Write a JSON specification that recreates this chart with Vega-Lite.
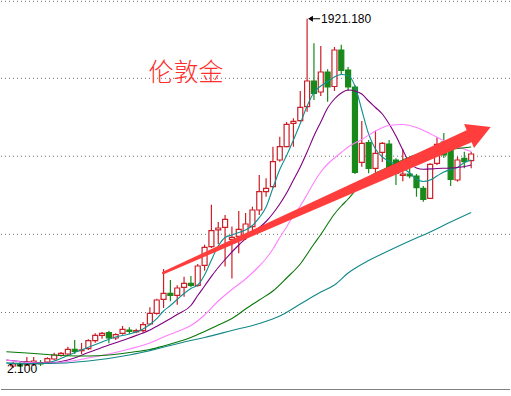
{
  "$schema": "https://vega.github.io/schema/vega-lite/v6.json",
  "width": 511,
  "height": 396,
  "padding": 0,
  "autosize": {"type": "fit", "contains": "padding"},
  "background": "white",
  "config": {"view": {"stroke": null}},
  "datasets": {
    "candles": [
      {"i":1,"o":1574,"c":1576,"h":1578,"l":1572.1},
      {"i":2,"o":1576,"c":1574,"h":1578,"l":1573},
      {"i":3,"o":1575,"c":1578,"h":1583,"l":1574},
      {"i":4,"o":1576,"c":1579,"h":1583,"l":1574},
      {"i":5,"o":1577.5,"c":1576,"h":1580,"l":1574},
      {"i":6,"o":1578,"c":1581.3,"h":1582.7,"l":1576.7},
      {"i":7,"o":1581,"c":1585,"h":1587.3,"l":1579.7},
      {"i":8,"o":1584.7,"c":1586.7,"h":1588,"l":1583.3},
      {"i":9,"o":1586,"c":1590.7,"h":1593.3,"l":1584},
      {"i":10,"o":1590.7,"c":1588.7,"h":1600,"l":1586},
      {"i":11,"o":1589.3,"c":1590,"h":1597,"l":1586},
      {"i":12,"o":1591.3,"c":1599.3,"h":1600.7,"l":1590},
      {"i":13,"o":1599.3,"c":1604.7,"h":1606.7,"l":1597.3},
      {"i":14,"o":1604.7,"c":1606.7,"h":1608,"l":1601.3},
      {"i":15,"o":1607.3,"c":1602,"h":1609.3,"l":1596.7},
      {"i":16,"o":1602,"c":1605.3,"h":1606.7,"l":1600},
      {"i":17,"o":1606.7,"c":1610.7,"h":1614,"l":1605.3},
      {"i":18,"o":1610,"c":1608.7,"h":1612.7,"l":1606},
      {"i":19,"o":1608,"c":1609.3,"h":1611.3,"l":1606.7},
      {"i":20,"o":1609.3,"c":1615.3,"h":1618,"l":1607.3},
      {"i":21,"o":1616,"c":1626.7,"h":1632.7,"l":1614.7},
      {"i":22,"o":1626.7,"c":1640,"h":1641.3,"l":1625.3},
      {"i":23,"o":1640.7,"c":1646.7,"h":1671,"l":1632},
      {"i":24,"o":1646.7,"c":1644.7,"h":1660,"l":1638.7},
      {"i":25,"o":1644.7,"c":1652,"h":1654.7,"l":1635.3},
      {"i":26,"o":1652.7,"c":1656.7,"h":1663.3,"l":1643.3},
      {"i":27,"o":1656.7,"c":1654.7,"h":1664,"l":1652.7},
      {"i":28,"o":1654.7,"c":1674,"h":1676,"l":1653.3},
      {"i":29,"o":1674.7,"c":1692.7,"h":1695.3,"l":1669.3},
      {"i":30,"o":1693.3,"c":1709.3,"h":1735.3,"l":1692},
      {"i":31,"o":1710.2,"c":1712,"h":1718,"l":1696},
      {"i":32,"o":1712.7,"c":1720.7,"h":1725,"l":1673.5},
      {"i":33,"o":1700.7,"c":1702.7,"h":1713.5,"l":1661.5},
      {"i":34,"o":1703.7,"c":1710.7,"h":1729,"l":1686.7},
      {"i":35,"o":1705,"c":1716,"h":1727,"l":1700},
      {"i":36,"o":1713.3,"c":1730,"h":1733.3,"l":1710},
      {"i":37,"o":1730,"c":1748.3,"h":1765,"l":1725},
      {"i":38,"o":1748.3,"c":1751.7,"h":1761.7,"l":1743.3},
      {"i":39,"o":1753.3,"c":1778.3,"h":1793.3,"l":1751.7},
      {"i":40,"o":1780,"c":1793.3,"h":1803.3,"l":1778.3},
      {"i":41,"o":1793.3,"c":1815.7,"h":1818,"l":1792.7},
      {"i":42,"o":1816.7,"c":1818.7,"h":1821.7,"l":1793.3},
      {"i":43,"o":1819.3,"c":1832.7,"h":1849,"l":1818.3},
      {"i":44,"o":1833.3,"c":1859,"h":1921.18,"l":1828.3},
      {"i":45,"o":1859,"c":1846.7,"h":1896.7,"l":1840},
      {"i":46,"o":1848,"c":1868,"h":1894,"l":1844},
      {"i":47,"o":1868,"c":1853,"h":1870.7,"l":1838.3},
      {"i":48,"o":1853.5,"c":1890,"h":1893,"l":1849},
      {"i":49,"o":1890,"c":1869.7,"h":1895.3,"l":1865},
      {"i":50,"o":1870,"c":1853,"h":1873,"l":1849},
      {"i":51,"o":1853,"c":1767.5,"h":1855,"l":1766},
      {"i":52,"o":1777.7,"c":1796.7,"h":1819,"l":1773.3},
      {"i":53,"o":1797.3,"c":1771.7,"h":1800,"l":1766.7},
      {"i":54,"o":1771.7,"c":1786.7,"h":1809.3,"l":1767.3},
      {"i":55,"o":1787.7,"c":1796.7,"h":1798,"l":1778},
      {"i":56,"o":1796,"c":1772.3,"h":1800,"l":1770},
      {"i":57,"o":1780,"c":1766.7,"h":1781.7,"l":1755},
      {"i":58,"o":1764.7,"c":1766,"h":1790.7,"l":1758.7},
      {"i":59,"o":1766,"c":1764,"h":1780,"l":1761.7},
      {"i":60,"o":1764,"c":1752.3,"h":1766,"l":1743.3},
      {"i":61,"o":1751.7,"c":1740.7,"h":1754,"l":1738.3},
      {"i":62,"o":1741.7,"c":1775.7,"h":1776.7,"l":1741.3},
      {"i":63,"o":1776.7,"c":1795.7,"h":1802.7,"l":1775},
      {"i":64,"o":1798,"c":1785,"h":1807,"l":1782},
      {"i":65,"o":1793.3,"c":1760.7,"h":1801.7,"l":1754},
      {"i":66,"o":1760,"c":1780,"h":1783.3,"l":1758.3},
      {"i":67,"o":1781.7,"c":1778.3,"h":1788.3,"l":1771.7},
      {"i":68,"o":1779.3,"c":1786,"h":1788.3,"l":1771.7}
    ],
    "ma": [
      {"ma":"MA5","i":0,"v":1577},{"ma":"MA5","i":3,"v":1576},{"ma":"MA5","i":6,"v":1577},{"ma":"MA5","i":7,"v":1579},
      {"ma":"MA5","i":9,"v":1584.5},{"ma":"MA5","i":10,"v":1587.4},{"ma":"MA5","i":12,"v":1592.7},{"ma":"MA5","i":14,"v":1598},
      {"ma":"MA5","i":16,"v":1603},{"ma":"MA5","i":18,"v":1606},{"ma":"MA5","i":20,"v":1611},{"ma":"MA5","i":21,"v":1615.5},
      {"ma":"MA5","i":22,"v":1621.3},{"ma":"MA5","i":23,"v":1629},{"ma":"MA5","i":24,"v":1634.5},{"ma":"MA5","i":25,"v":1640.5},
      {"ma":"MA5","i":26,"v":1646.5},{"ma":"MA5","i":27,"v":1651.5},{"ma":"MA5","i":28,"v":1655},{"ma":"MA5","i":29,"v":1665},
      {"ma":"MA5","i":30,"v":1680},{"ma":"MA5","i":31,"v":1694},{"ma":"MA5","i":32,"v":1702.5},{"ma":"MA5","i":33,"v":1705},
      {"ma":"MA5","i":34,"v":1707.5},{"ma":"MA5","i":35,"v":1710},{"ma":"MA5","i":36,"v":1714.5},{"ma":"MA5","i":37,"v":1722.3},
      {"ma":"MA5","i":38,"v":1733},{"ma":"MA5","i":39,"v":1752},{"ma":"MA5","i":40,"v":1770.5},{"ma":"MA5","i":41,"v":1784.5},
      {"ma":"MA5","i":42,"v":1800},{"ma":"MA5","i":43,"v":1816.5},{"ma":"MA5","i":44,"v":1834},{"ma":"MA5","i":45,"v":1847.5},
      {"ma":"MA5","i":46,"v":1854},{"ma":"MA5","i":47,"v":1858.5},{"ma":"MA5","i":48,"v":1863},{"ma":"MA5","i":49,"v":1865.5},
      {"ma":"MA5","i":50,"v":1864.5},{"ma":"MA5","i":51,"v":1854},{"ma":"MA5","i":52,"v":1830},{"ma":"MA5","i":53,"v":1806},
      {"ma":"MA5","i":54,"v":1791},{"ma":"MA5","i":55,"v":1783},{"ma":"MA5","i":56,"v":1779},{"ma":"MA5","i":57,"v":1775.3},
      {"ma":"MA5","i":58,"v":1772},{"ma":"MA5","i":59,"v":1767},{"ma":"MA5","i":60,"v":1761},{"ma":"MA5","i":61,"v":1758.5},
      {"ma":"MA5","i":62,"v":1760},{"ma":"MA5","i":63,"v":1764},{"ma":"MA5","i":64,"v":1768},{"ma":"MA5","i":65,"v":1770.5},
      {"ma":"MA5","i":66,"v":1772.5},{"ma":"MA5","i":67,"v":1777.5},{"ma":"MA5","i":68,"v":1780},

      {"ma":"MA10","i":0,"v":1580},{"ma":"MA10","i":3,"v":1578},{"ma":"MA10","i":6,"v":1577},{"ma":"MA10","i":9,"v":1580},
      {"ma":"MA10","i":12,"v":1587.5},{"ma":"MA10","i":15,"v":1595},{"ma":"MA10","i":18,"v":1602},{"ma":"MA10","i":21,"v":1610},
      {"ma":"MA10","i":23,"v":1617.5},{"ma":"MA10","i":25,"v":1625.5},{"ma":"MA10","i":27,"v":1634.5},{"ma":"MA10","i":28,"v":1644.5},
      {"ma":"MA10","i":29,"v":1654},{"ma":"MA10","i":30,"v":1663.7},{"ma":"MA10","i":32,"v":1680.5},{"ma":"MA10","i":34,"v":1695},
      {"ma":"MA10","i":36,"v":1707},{"ma":"MA10","i":38,"v":1718.5},{"ma":"MA10","i":39,"v":1726.5},{"ma":"MA10","i":40,"v":1736},
      {"ma":"MA10","i":41,"v":1747},{"ma":"MA10","i":42,"v":1760},{"ma":"MA10","i":43,"v":1773},{"ma":"MA10","i":44,"v":1788},
      {"ma":"MA10","i":45,"v":1804},{"ma":"MA10","i":46,"v":1818},{"ma":"MA10","i":47,"v":1832},{"ma":"MA10","i":48,"v":1841},
      {"ma":"MA10","i":49,"v":1847},{"ma":"MA10","i":50,"v":1850},{"ma":"MA10","i":51,"v":1849},{"ma":"MA10","i":52,"v":1846},
      {"ma":"MA10","i":53,"v":1839},{"ma":"MA10","i":54,"v":1832.5},{"ma":"MA10","i":55,"v":1826},{"ma":"MA10","i":56,"v":1816},
      {"ma":"MA10","i":57,"v":1804},{"ma":"MA10","i":58,"v":1790},{"ma":"MA10","i":59,"v":1777},{"ma":"MA10","i":60,"v":1772},
      {"ma":"MA10","i":61,"v":1770.7},{"ma":"MA10","i":63,"v":1771.5},{"ma":"MA10","i":65,"v":1772},{"ma":"MA10","i":67,"v":1773.5},
      {"ma":"MA10","i":68,"v":1775},

      {"ma":"MA20","i":0,"v":1580},{"ma":"MA20","i":3,"v":1577.5},{"ma":"MA20","i":6,"v":1576.7},{"ma":"MA20","i":9,"v":1578.5},
      {"ma":"MA20","i":12,"v":1582},{"ma":"MA20","i":15,"v":1586},{"ma":"MA20","i":18,"v":1591},{"ma":"MA20","i":21,"v":1597},
      {"ma":"MA20","i":23,"v":1603},{"ma":"MA20","i":25,"v":1608.5},{"ma":"MA20","i":27,"v":1614.5},{"ma":"MA20","i":29,"v":1625},
      {"ma":"MA20","i":31,"v":1639},{"ma":"MA20","i":33,"v":1650.5},{"ma":"MA20","i":35,"v":1661},{"ma":"MA20","i":37,"v":1674},
      {"ma":"MA20","i":38,"v":1681.5},{"ma":"MA20","i":39,"v":1691},{"ma":"MA20","i":40,"v":1702.5},{"ma":"MA20","i":41,"v":1713},
      {"ma":"MA20","i":42,"v":1724.5},{"ma":"MA20","i":43,"v":1734},{"ma":"MA20","i":44,"v":1745.5},{"ma":"MA20","i":45,"v":1757.5},
      {"ma":"MA20","i":46,"v":1768},{"ma":"MA20","i":47,"v":1776},{"ma":"MA20","i":48,"v":1782},{"ma":"MA20","i":49,"v":1787.5},
      {"ma":"MA20","i":50,"v":1793},{"ma":"MA20","i":52,"v":1800.5},{"ma":"MA20","i":54,"v":1809},{"ma":"MA20","i":56,"v":1814.5},
      {"ma":"MA20","i":58,"v":1815.5},{"ma":"MA20","i":60,"v":1812.5},{"ma":"MA20","i":62,"v":1806.3},{"ma":"MA20","i":64,"v":1799.2},
      {"ma":"MA20","i":66,"v":1793.3},{"ma":"MA20","i":68,"v":1788.5},

      {"ma":"MA30","i":0,"v":1588.3},{"ma":"MA30","i":3,"v":1587},{"ma":"MA30","i":6,"v":1585.5},{"ma":"MA30","i":9,"v":1584.2},
      {"ma":"MA30","i":12,"v":1584},{"ma":"MA30","i":15,"v":1585},{"ma":"MA30","i":18,"v":1587.5},{"ma":"MA30","i":21,"v":1590.5},
      {"ma":"MA30","i":23,"v":1594},{"ma":"MA30","i":25,"v":1598},{"ma":"MA30","i":27,"v":1602.5},{"ma":"MA30","i":29,"v":1608.5},
      {"ma":"MA30","i":31,"v":1615},{"ma":"MA30","i":33,"v":1621.5},{"ma":"MA30","i":35,"v":1631},{"ma":"MA30","i":37,"v":1640},
      {"ma":"MA30","i":39,"v":1649},{"ma":"MA30","i":41,"v":1662},{"ma":"MA30","i":43,"v":1676},{"ma":"MA30","i":45,"v":1696},
      {"ma":"MA30","i":46,"v":1705.5},{"ma":"MA30","i":47,"v":1716},{"ma":"MA30","i":48,"v":1726},{"ma":"MA30","i":49,"v":1734},
      {"ma":"MA30","i":50,"v":1741},{"ma":"MA30","i":51,"v":1749},{"ma":"MA30","i":52,"v":1756.5},{"ma":"MA30","i":53,"v":1762.5},
      {"ma":"MA30","i":54,"v":1767},{"ma":"MA30","i":55,"v":1770},{"ma":"MA30","i":56,"v":1773.5},{"ma":"MA30","i":58,"v":1780},
      {"ma":"MA30","i":60,"v":1785.5},{"ma":"MA30","i":62,"v":1788.5},{"ma":"MA30","i":64,"v":1790},{"ma":"MA30","i":66,"v":1791.5},
      {"ma":"MA30","i":68,"v":1793},

      {"ma":"MA60","i":0,"v":1577},{"ma":"MA60","i":6,"v":1576.5},{"ma":"MA60","i":12,"v":1579},{"ma":"MA60","i":18,"v":1585},
      {"ma":"MA60","i":22,"v":1591},{"ma":"MA60","i":26,"v":1598},{"ma":"MA60","i":29,"v":1602.5},{"ma":"MA60","i":33,"v":1609.5},
      {"ma":"MA60","i":37,"v":1616.5},{"ma":"MA60","i":40,"v":1624},{"ma":"MA60","i":43,"v":1636},{"ma":"MA60","i":46,"v":1648},
      {"ma":"MA60","i":48,"v":1655},{"ma":"MA60","i":50,"v":1667},{"ma":"MA60","i":53,"v":1679.5},{"ma":"MA60","i":56,"v":1689.5},
      {"ma":"MA60","i":59,"v":1699},{"ma":"MA60","i":62,"v":1708},{"ma":"MA60","i":65,"v":1718},{"ma":"MA60","i":68,"v":1727.5}
    ]
  },
  "layer": [
    {
      "data": {"values": [{"v":1938.7},{"v":1861.7},{"v":1783.8},{"v":1705.7},{"v":1627.5}]},
      "mark": {"type": "rule", "stroke": "#707070", "strokeWidth": 1, "strokeDash": [1, 3]},
      "encoding": {
        "y": {"field": "v", "type": "quantitative", "scale": {"domain": [1544, 1940], "nice": false, "zero": false}, "axis": null}
      }
    },
    {
      "data": {"values": [{"v":1550.5}]},
      "mark": {"type": "rule", "stroke": "#808080", "strokeWidth": 1.2},
      "encoding": {
        "y": {"field": "v", "type": "quantitative", "scale": {"domain": [1544, 1940], "nice": false, "zero": false}, "axis": null}
      }
    },
    {
      "data": {"name": "candles"},
      "mark": {"type": "rule", "strokeWidth": 1.2},
      "encoding": {
        "x": {"field": "i", "type": "quantitative", "scale": {"domain": [-0.05, 72.95], "nice": false, "zero": false}, "axis": null},
        "y": {"field": "l", "type": "quantitative", "scale": {"domain": [1544, 1940], "nice": false, "zero": false}, "axis": null},
        "y2": {"field": "h"},
        "stroke": {"condition": {"test": "datum.c >= datum.o", "value": "#cc1f28"}, "value": "#18891a"}
      }
    },
    {
      "data": {"name": "candles"},
      "mark": {"type": "bar", "width": 5, "strokeWidth": 1.2},
      "encoding": {
        "x": {"field": "i", "type": "quantitative", "scale": {"domain": [-0.05, 72.95], "nice": false, "zero": false}, "axis": null},
        "y": {"field": "o", "type": "quantitative", "scale": {"domain": [1544, 1940], "nice": false, "zero": false}, "axis": null},
        "y2": {"field": "c"},
        "stroke": {"condition": {"test": "datum.c >= datum.o", "value": "#cc1f28"}, "value": "#18891a"},
        "fill": {"condition": {"test": "datum.c >= datum.o", "value": "#ffffff"}, "value": "#18891a"}
      }
    },
    {
      "data": {"name": "ma"},
      "mark": {"type": "line", "strokeWidth": 1.1, "interpolate": "monotone"},
      "encoding": {
        "x": {"field": "i", "type": "quantitative", "scale": {"domain": [-0.05, 72.95], "nice": false, "zero": false}, "axis": null},
        "y": {"field": "v", "type": "quantitative", "scale": {"domain": [1544, 1940], "nice": false, "zero": false}, "axis": null},
        "color": {"field": "ma", "type": "nominal", "legend": null,
          "scale": {"domain": ["MA5","MA10","MA20","MA30","MA60"], "range": ["#0f9090","#800080","#ff80ff","#087808","#128888"]}}
      }
    },
    {
      "data": {"values": [{"i":22.95,"v":1667},{"i":68.1,"v":1805}]},
      "mark": {"type": "trail", "color": "#ff3d3d"},
      "encoding": {
        "x": {"field": "i", "type": "quantitative", "scale": {"domain": [-0.05, 72.95], "nice": false, "zero": false}, "axis": null},
        "y": {"field": "v", "type": "quantitative", "scale": {"domain": [1544, 1940], "nice": false, "zero": false}, "axis": null},
        "size": {"field": "i", "type": "quantitative", "legend": null, "scale": {"domain": [22.95, 68.1], "range": [2.5, 13], "zero": false}}
      }
    },
    {
      "data": {"values": [{"i":69.1,"v":1808}]},
      "mark": {"type": "point", "shape": "M1,0L-0.8,-1L-0.8,1Z", "size": 676, "angle": 337.5, "filled": true, "color": "#ff3d3d", "opacity": 1, "strokeWidth": 0},
      "encoding": {
        "x": {"field": "i", "type": "quantitative", "scale": {"domain": [-0.05, 72.95], "nice": false, "zero": false}, "axis": null},
        "y": {"field": "v", "type": "quantitative", "scale": {"domain": [1544, 1940], "nice": false, "zero": false}, "axis": null}
      }
    },
    {
      "data": {"values": [{"label":"伦敦金","i":26.3,"v":1867}]},
      "mark": {"type": "text", "font": "Noto Sans CJK SC", "fontSize": 25, "fontWeight": 300, "color": "#ff2d2d", "align": "center", "baseline": "middle"},
      "encoding": {
        "x": {"field": "i", "type": "quantitative", "scale": {"domain": [-0.05, 72.95], "nice": false, "zero": false}, "axis": null},
        "y": {"field": "v", "type": "quantitative", "scale": {"domain": [1544, 1940], "nice": false, "zero": false}, "axis": null},
        "text": {"field": "label"}
      }
    },
    {
      "data": {"values": [{"label":"1921.180","i":44,"v":1921.18}]},
      "mark": {"type": "text", "font": "Liberation Sans", "fontSize": 12, "color": "#000000", "align": "left", "baseline": "middle", "dx": 14},
      "encoding": {
        "x": {"field": "i", "type": "quantitative", "scale": {"domain": [-0.05, 72.95], "nice": false, "zero": false}, "axis": null},
        "y": {"field": "v", "type": "quantitative", "scale": {"domain": [1544, 1940], "nice": false, "zero": false}, "axis": null},
        "text": {"field": "label"}
      }
    },
    {
      "data": {"values": [{"i":44,"v":1921.18}]},
      "mark": {"type": "point", "shape": "M-1,0L-0.2,-0.5L-0.2,0.5Z M-0.2,-0.08L1,-0.08L1,0.08L-0.2,0.08Z", "size": 144, "filled": true, "color": "#000000", "opacity": 1, "strokeWidth": 0, "xOffset": 7},
      "encoding": {
        "x": {"field": "i", "type": "quantitative", "scale": {"domain": [-0.05, 72.95], "nice": false, "zero": false}, "axis": null},
        "y": {"field": "v", "type": "quantitative", "scale": {"domain": [1544, 1940], "nice": false, "zero": false}, "axis": null}
      }
    },
    {
      "data": {"values": [{"label":"2.100","i":0,"v":1571}]},
      "mark": {"type": "text", "font": "Liberation Sans", "fontSize": 12, "color": "#000000", "align": "left", "baseline": "middle", "dx": 0.7},
      "encoding": {
        "x": {"field": "i", "type": "quantitative", "scale": {"domain": [-0.05, 72.95], "nice": false, "zero": false}, "axis": null},
        "y": {"field": "v", "type": "quantitative", "scale": {"domain": [1544, 1940], "nice": false, "zero": false}, "axis": null},
        "text": {"field": "label"}
      }
    }
  ]
}
